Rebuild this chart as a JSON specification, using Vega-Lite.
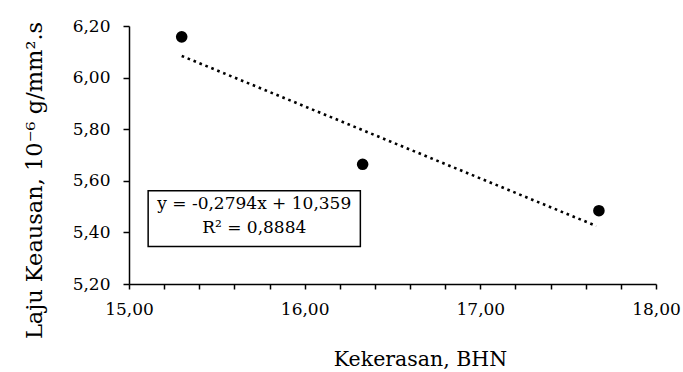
{
  "$schema": "https://vega.github.io/schema/vega-lite/v6.json",
  "width": 527,
  "height": 258,
  "autosize": {"type": "none"},
  "padding": {"left": 129, "top": 26, "right": 27, "bottom": 88},
  "background": "white",
  "config": {
    "view": {"stroke": null},
    "font": "DejaVu Serif"
  },
  "encoding": {
    "x": {
      "field": "x",
      "type": "quantitative",
      "scale": {"domain": [15, 18], "nice": false, "zero": false},
      "axis": {
        "title": "Kekerasan, BHN",
        "values": [15, 15.2, 15.4, 15.6, 15.8, 16, 16.2, 16.4, 16.6, 16.8, 17, 17.2, 17.4, 17.6, 17.8, 18],
        "labelExpr": "abs(datum.value - round(datum.value)) < 0.01 ? replace(format(datum.value, '.2f'), '.', ',') : ''",
        "grid": false,
        "domainColor": "black",
        "domainWidth": 1.5,
        "tickColor": "black",
        "tickWidth": 1.5,
        "tickSize": 5,
        "labelFont": "DejaVu Serif",
        "labelFontSize": 17,
        "labelColor": "black",
        "labelPadding": 12,
        "labelFlush": false,
        "labelOverlap": false,
        "titleFont": "DejaVu Serif",
        "titleFontSize": 20.5,
        "titleFontWeight": "normal",
        "titleColor": "black",
        "titleX": 291,
        "titleY": 81,
        "titleBaseline": "alphabetic"
      }
    },
    "y": {
      "field": "y",
      "type": "quantitative",
      "scale": {"domain": [5.2, 6.2], "nice": false, "zero": false},
      "axis": {
        "title": "Laju Keausan, 10⁻⁶ g/mm².s",
        "values": [5.2, 5.4, 5.6, 5.8, 6.0, 6.2],
        "labelExpr": "replace(format(datum.value, '.2f'), '.', ',')",
        "grid": false,
        "domainColor": "black",
        "domainWidth": 1.5,
        "tickColor": "black",
        "tickWidth": 1.5,
        "tickSize": 6,
        "labelFont": "DejaVu Serif",
        "labelFontSize": 17,
        "labelColor": "black",
        "labelPadding": 13,
        "labelOverlap": false,
        "labelFlush": false,
        "titleFont": "DejaVu Serif",
        "titleFontSize": 22.5,
        "titleFontWeight": "normal",
        "titleColor": "black",
        "titleX": -88,
        "titleY": 154,
        "titleBaseline": "alphabetic"
      }
    }
  },
  "layer": [
    {
      "data": {"values": [{"x": 15.109, "y": 5.5616, "x2": 16.317, "y2": 5.3454}]},
      "mark": {"type": "rect", "fill": "white", "stroke": "black", "strokeWidth": 1.5},
      "encoding": {
        "x2": {"field": "x2"},
        "y2": {"field": "y2"}
      }
    },
    {
      "data": {"values": [{"x": 15.713, "y": 5.4895, "label": ["y = -0,2794x + 10,359", "R² = 0,8884"]}]},
      "mark": {"type": "text", "font": "DejaVu Serif", "fontSize": 17, "color": "black", "align": "center", "baseline": "alphabetic", "lineHeight": 24},
      "encoding": {
        "text": {"field": "label"}
      }
    },
    {
      "data": {"values": [{"x": 15.30, "y": 6.084}, {"x": 17.66, "y": 5.425}]},
      "mark": {"type": "line", "color": "black", "strokeWidth": 2.6, "strokeDash": [2.6, 3.8], "strokeCap": "butt"},
      "encoding": {}
    },
    {
      "data": {"values": [{"x": 15.30, "y": 6.158}, {"x": 16.33, "y": 5.664}, {"x": 17.675, "y": 5.484}]},
      "mark": {"type": "point", "filled": true, "color": "black", "opacity": 1, "size": 135},
      "encoding": {}
    }
  ]
}
